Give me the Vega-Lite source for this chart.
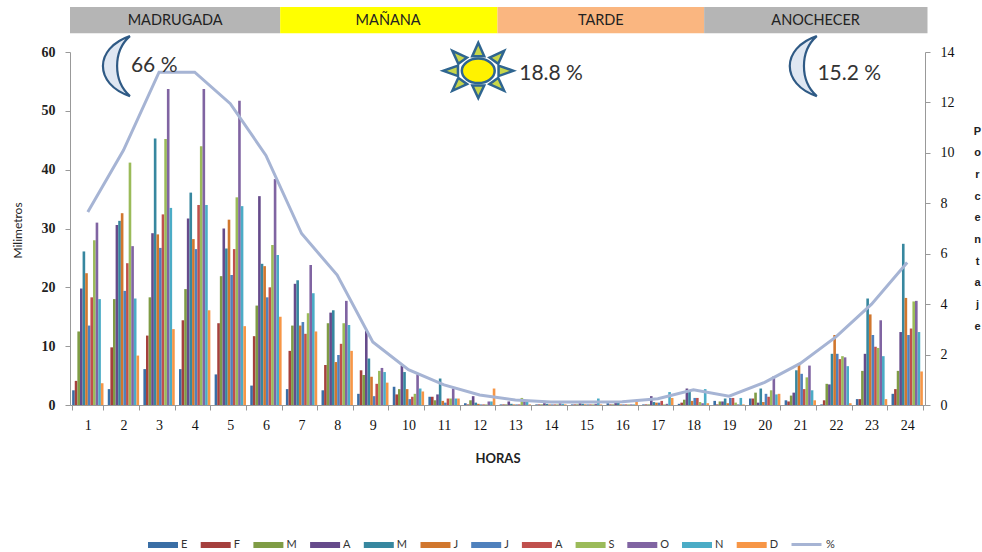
{"$schema":"https://vega.github.io/schema/vega-lite/v6.json","width":855,"height":353,"autosize":{"type":"none"},"padding":{"left":70,"top":52,"right":57,"bottom":147},"background":"white",
"config":{"view":{"stroke":null},"axis":{"grid":false}},
"datasets":{"barras":[
{"h":1,"mes":"Ene","mm":2.5},{"h":1,"mes":"Feb","mm":4.1},{"h":1,"mes":"Mar","mm":12.5},{"h":1,"mes":"Abr","mm":19.8},{"h":1,"mes":"May","mm":26.1},{"h":1,"mes":"Jun","mm":22.4},{"h":1,"mes":"Jul","mm":13.5},{"h":1,"mes":"Ago","mm":18.3},{"h":1,"mes":"Sep","mm":28},{"h":1,"mes":"Oct","mm":31},{"h":1,"mes":"Nov","mm":18},{"h":1,"mes":"Dic","mm":3.7},
{"h":2,"mes":"Ene","mm":2.7},{"h":2,"mes":"Feb","mm":9.8},{"h":2,"mes":"Mar","mm":18},{"h":2,"mes":"Abr","mm":30.6},{"h":2,"mes":"May","mm":31.3},{"h":2,"mes":"Jun","mm":32.6},{"h":2,"mes":"Jul","mm":19.4},{"h":2,"mes":"Ago","mm":24.1},{"h":2,"mes":"Sep","mm":41.2},{"h":2,"mes":"Oct","mm":27},{"h":2,"mes":"Nov","mm":18.1},{"h":2,"mes":"Dic","mm":8.4},
{"h":3,"mes":"Ene","mm":6.1},{"h":3,"mes":"Feb","mm":11.8},{"h":3,"mes":"Mar","mm":18.3},{"h":3,"mes":"Abr","mm":29.2},{"h":3,"mes":"May","mm":45.3},{"h":3,"mes":"Jun","mm":29},{"h":3,"mes":"Jul","mm":26.7},{"h":3,"mes":"Ago","mm":32.4},{"h":3,"mes":"Sep","mm":45.2},{"h":3,"mes":"Oct","mm":53.7},{"h":3,"mes":"Nov","mm":33.5},{"h":3,"mes":"Dic","mm":12.9},
{"h":4,"mes":"Ene","mm":6.1},{"h":4,"mes":"Feb","mm":14.4},{"h":4,"mes":"Mar","mm":19.7},{"h":4,"mes":"Abr","mm":31.7},{"h":4,"mes":"May","mm":36.1},{"h":4,"mes":"Jun","mm":28.2},{"h":4,"mes":"Jul","mm":26.5},{"h":4,"mes":"Ago","mm":34},{"h":4,"mes":"Sep","mm":44},{"h":4,"mes":"Oct","mm":53.7},{"h":4,"mes":"Nov","mm":34},{"h":4,"mes":"Dic","mm":16.1},
{"h":5,"mes":"Ene","mm":5.2},{"h":5,"mes":"Feb","mm":13.9},{"h":5,"mes":"Mar","mm":21.9},{"h":5,"mes":"Abr","mm":30},{"h":5,"mes":"May","mm":26.6},{"h":5,"mes":"Jun","mm":31.5},{"h":5,"mes":"Jul","mm":22.1},{"h":5,"mes":"Ago","mm":26.5},{"h":5,"mes":"Sep","mm":35.3},{"h":5,"mes":"Oct","mm":51.7},{"h":5,"mes":"Nov","mm":33.8},{"h":5,"mes":"Dic","mm":13.4},
{"h":6,"mes":"Ene","mm":3.3},{"h":6,"mes":"Feb","mm":11.7},{"h":6,"mes":"Mar","mm":16.9},{"h":6,"mes":"Abr","mm":35.5},{"h":6,"mes":"May","mm":24},{"h":6,"mes":"Jun","mm":23.6},{"h":6,"mes":"Jul","mm":18.3},{"h":6,"mes":"Ago","mm":20},{"h":6,"mes":"Sep","mm":27.2},{"h":6,"mes":"Oct","mm":38.4},{"h":6,"mes":"Nov","mm":25.5},{"h":6,"mes":"Dic","mm":15},
{"h":7,"mes":"Ene","mm":2.7},{"h":7,"mes":"Feb","mm":9.2},{"h":7,"mes":"Mar","mm":13.5},{"h":7,"mes":"Abr","mm":20.6},{"h":7,"mes":"May","mm":21.2},{"h":7,"mes":"Jun","mm":13.5},{"h":7,"mes":"Jul","mm":14.1},{"h":7,"mes":"Ago","mm":12.1},{"h":7,"mes":"Sep","mm":15.6},{"h":7,"mes":"Oct","mm":23.8},{"h":7,"mes":"Nov","mm":19},{"h":7,"mes":"Dic","mm":12.5},
{"h":8,"mes":"Ene","mm":2.5},{"h":8,"mes":"Feb","mm":6.8},{"h":8,"mes":"Mar","mm":13.9},{"h":8,"mes":"Abr","mm":15.7},{"h":8,"mes":"May","mm":16.1},{"h":8,"mes":"Jun","mm":7.3},{"h":8,"mes":"Jul","mm":8.5},{"h":8,"mes":"Ago","mm":10.4},{"h":8,"mes":"Sep","mm":13.9},{"h":8,"mes":"Oct","mm":17.7},{"h":8,"mes":"Nov","mm":13.6},{"h":8,"mes":"Dic","mm":9.2},
{"h":9,"mes":"Ene","mm":1.9},{"h":9,"mes":"Feb","mm":5.9},{"h":9,"mes":"Mar","mm":5.1},{"h":9,"mes":"Abr","mm":12.6},{"h":9,"mes":"May","mm":7.9},{"h":9,"mes":"Jun","mm":4.8},{"h":9,"mes":"Jul","mm":1.5},{"h":9,"mes":"Ago","mm":3.6},{"h":9,"mes":"Sep","mm":5.8},{"h":9,"mes":"Oct","mm":6.3},{"h":9,"mes":"Nov","mm":5.6},{"h":9,"mes":"Dic","mm":3.8},
{"h":10,"mes":"Ene","mm":3.1},{"h":10,"mes":"Feb","mm":1.8},{"h":10,"mes":"Mar","mm":2.7},{"h":10,"mes":"Abr","mm":6.7},{"h":10,"mes":"May","mm":5.6},{"h":10,"mes":"Jun","mm":2.7},{"h":10,"mes":"Jul","mm":1},{"h":10,"mes":"Ago","mm":1.4},{"h":10,"mes":"Sep","mm":1.9},{"h":10,"mes":"Oct","mm":5.2},{"h":10,"mes":"Nov","mm":2.8},{"h":10,"mes":"Dic","mm":2.3},
{"h":11,"mes":"Ene","mm":1.4},{"h":11,"mes":"Feb","mm":1.4},{"h":11,"mes":"Mar","mm":0.8},{"h":11,"mes":"Abr","mm":1.8},{"h":11,"mes":"May","mm":4.5},{"h":11,"mes":"Jun","mm":0.7},{"h":11,"mes":"Jul","mm":0.4},{"h":11,"mes":"Ago","mm":1.1},{"h":11,"mes":"Sep","mm":1.1},{"h":11,"mes":"Oct","mm":2.8},{"h":11,"mes":"Nov","mm":1.1},{"h":11,"mes":"Dic","mm":1.1},
{"h":12,"mes":"Ene","mm":0.3},{"h":12,"mes":"Feb","mm":0.1},{"h":12,"mes":"Mar","mm":0.8},{"h":12,"mes":"Abr","mm":1.5},{"h":12,"mes":"May","mm":0.4},{"h":12,"mes":"Jun","mm":0.2},{"h":12,"mes":"Jul","mm":0.1},{"h":12,"mes":"Ago","mm":0.1},{"h":12,"mes":"Sep","mm":0.1},{"h":12,"mes":"Oct","mm":0.6},{"h":12,"mes":"Nov","mm":0.6},{"h":12,"mes":"Dic","mm":2.8},
{"h":13,"mes":"Ene","mm":0.1},{"h":13,"mes":"Feb","mm":0.1},{"h":13,"mes":"Mar","mm":0.1},{"h":13,"mes":"Abr","mm":0.6},{"h":13,"mes":"May","mm":0.2},{"h":13,"mes":"Jun","mm":0.1},{"h":13,"mes":"Jul","mm":0.1},{"h":13,"mes":"Ago","mm":0.1},{"h":13,"mes":"Sep","mm":1.2},{"h":13,"mes":"Oct","mm":0.8},{"h":13,"mes":"Nov","mm":0.6},{"h":13,"mes":"Dic","mm":0.1},
{"h":14,"mes":"Ene","mm":0.1},{"h":14,"mes":"Feb","mm":0.1},{"h":14,"mes":"Mar","mm":0.1},{"h":14,"mes":"Abr","mm":0.3},{"h":14,"mes":"May","mm":0.2},{"h":14,"mes":"Jun","mm":0.1},{"h":14,"mes":"Jul","mm":0.1},{"h":14,"mes":"Ago","mm":0.1},{"h":14,"mes":"Sep","mm":0.1},{"h":14,"mes":"Oct","mm":0.3},{"h":14,"mes":"Nov","mm":0.2},{"h":14,"mes":"Dic","mm":0.1},
{"h":15,"mes":"Ene","mm":0.1},{"h":15,"mes":"Feb","mm":0.1},{"h":15,"mes":"Mar","mm":0.1},{"h":15,"mes":"Abr","mm":0.3},{"h":15,"mes":"May","mm":0.2},{"h":15,"mes":"Jun","mm":0.1},{"h":15,"mes":"Jul","mm":0.1},{"h":15,"mes":"Ago","mm":0.1},{"h":15,"mes":"Sep","mm":0.1},{"h":15,"mes":"Oct","mm":0.2},{"h":15,"mes":"Nov","mm":1.1},{"h":15,"mes":"Dic","mm":0.1},
{"h":16,"mes":"Ene","mm":0.3},{"h":16,"mes":"Feb","mm":0.1},{"h":16,"mes":"Mar","mm":0.1},{"h":16,"mes":"Abr","mm":0.5},{"h":16,"mes":"May","mm":0.5},{"h":16,"mes":"Jun","mm":0.1},{"h":16,"mes":"Jul","mm":0.1},{"h":16,"mes":"Ago","mm":0.1},{"h":16,"mes":"Sep","mm":0.1},{"h":16,"mes":"Oct","mm":0.1},{"h":16,"mes":"Nov","mm":0.1},{"h":16,"mes":"Dic","mm":0.7},
{"h":17,"mes":"Ene","mm":0.1},{"h":17,"mes":"Feb","mm":0.1},{"h":17,"mes":"Mar","mm":0.1},{"h":17,"mes":"Abr","mm":1.5},{"h":17,"mes":"May","mm":0.5},{"h":17,"mes":"Jun","mm":0.4},{"h":17,"mes":"Jul","mm":0.4},{"h":17,"mes":"Ago","mm":0.7},{"h":17,"mes":"Sep","mm":0.1},{"h":17,"mes":"Oct","mm":0.2},{"h":17,"mes":"Nov","mm":2.2},{"h":17,"mes":"Dic","mm":1.2},
{"h":18,"mes":"Ene","mm":0.2},{"h":18,"mes":"Feb","mm":0.4},{"h":18,"mes":"Mar","mm":0.9},{"h":18,"mes":"Abr","mm":2.8},{"h":18,"mes":"May","mm":2.2},{"h":18,"mes":"Jun","mm":0.7},{"h":18,"mes":"Jul","mm":1.2},{"h":18,"mes":"Ago","mm":1.2},{"h":18,"mes":"Sep","mm":0.5},{"h":18,"mes":"Oct","mm":0.3},{"h":18,"mes":"Nov","mm":2.7},{"h":18,"mes":"Dic","mm":0.3},
{"h":19,"mes":"Ene","mm":0.7},{"h":19,"mes":"Feb","mm":0.1},{"h":19,"mes":"Mar","mm":0.6},{"h":19,"mes":"Abr","mm":0.6},{"h":19,"mes":"May","mm":1.1},{"h":19,"mes":"Jun","mm":0.3},{"h":19,"mes":"Jul","mm":1.2},{"h":19,"mes":"Ago","mm":1.2},{"h":19,"mes":"Sep","mm":0.4},{"h":19,"mes":"Oct","mm":0.1},{"h":19,"mes":"Nov","mm":1.2},{"h":19,"mes":"Dic","mm":0.1},
{"h":20,"mes":"Ene","mm":1.1},{"h":20,"mes":"Feb","mm":1.1},{"h":20,"mes":"Mar","mm":2.1},{"h":20,"mes":"Abr","mm":0.4},{"h":20,"mes":"May","mm":2.8},{"h":20,"mes":"Jun","mm":0.5},{"h":20,"mes":"Jul","mm":1.9},{"h":20,"mes":"Ago","mm":1.4},{"h":20,"mes":"Sep","mm":2.5},{"h":20,"mes":"Oct","mm":4.9},{"h":20,"mes":"Nov","mm":1.8},{"h":20,"mes":"Dic","mm":1.9},
{"h":21,"mes":"Ene","mm":0.8},{"h":21,"mes":"Feb","mm":0.6},{"h":21,"mes":"Mar","mm":1.6},{"h":21,"mes":"Abr","mm":2.1},{"h":21,"mes":"May","mm":5.9},{"h":21,"mes":"Jun","mm":7.1},{"h":21,"mes":"Jul","mm":5.3},{"h":21,"mes":"Ago","mm":2.7},{"h":21,"mes":"Sep","mm":4.7},{"h":21,"mes":"Oct","mm":6.7},{"h":21,"mes":"Nov","mm":2.5},{"h":21,"mes":"Dic","mm":0.8},
{"h":22,"mes":"Ene","mm":0.1},{"h":22,"mes":"Feb","mm":0.8},{"h":22,"mes":"Mar","mm":3.6},{"h":22,"mes":"Abr","mm":3.5},{"h":22,"mes":"May","mm":8.7},{"h":22,"mes":"Jun","mm":11.9},{"h":22,"mes":"Jul","mm":8.7},{"h":22,"mes":"Ago","mm":7.8},{"h":22,"mes":"Sep","mm":8.3},{"h":22,"mes":"Oct","mm":8.1},{"h":22,"mes":"Nov","mm":6.6},{"h":22,"mes":"Dic","mm":0.3},
{"h":23,"mes":"Ene","mm":1},{"h":23,"mes":"Feb","mm":1},{"h":23,"mes":"Mar","mm":5.8},{"h":23,"mes":"Abr","mm":8.7},{"h":23,"mes":"May","mm":18.1},{"h":23,"mes":"Jun","mm":15.4},{"h":23,"mes":"Jul","mm":11.9},{"h":23,"mes":"Ago","mm":9.9},{"h":23,"mes":"Sep","mm":9.7},{"h":23,"mes":"Oct","mm":14.4},{"h":23,"mes":"Nov","mm":8.3},{"h":23,"mes":"Dic","mm":1},
{"h":24,"mes":"Ene","mm":1.9},{"h":24,"mes":"Feb","mm":2.7},{"h":24,"mes":"Mar","mm":5.8},{"h":24,"mes":"Abr","mm":12.4},{"h":24,"mes":"May","mm":27.4},{"h":24,"mes":"Jun","mm":18.2},{"h":24,"mes":"Jul","mm":11.9},{"h":24,"mes":"Ago","mm":13},{"h":24,"mes":"Sep","mm":17.6},{"h":24,"mes":"Oct","mm":17.7},{"h":24,"mes":"Nov","mm":12.4},{"h":24,"mes":"Dic","mm":5.7}
],
"linea":[{"h":1,"p":7.65,"s":"%"},{"h":2,"p":10.1,"s":"%"},{"h":3,"p":13.2,"s":"%"},{"h":4,"p":13.2,"s":"%"},{"h":5,"p":11.95,"s":"%"},{"h":6,"p":9.9,"s":"%"},{"h":7,"p":6.8,"s":"%"},{"h":8,"p":5.15,"s":"%"},{"h":9,"p":2.5,"s":"%"},{"h":10,"p":1.4,"s":"%"},{"h":11,"p":0.8,"s":"%"},{"h":12,"p":0.4,"s":"%"},{"h":13,"p":0.2,"s":"%"},{"h":14,"p":0.12,"s":"%"},{"h":15,"p":0.12,"s":"%"},{"h":16,"p":0.13,"s":"%"},{"h":17,"p":0.25,"s":"%"},{"h":18,"p":0.6,"s":"%"},{"h":19,"p":0.35,"s":"%"},{"h":20,"p":0.9,"s":"%"},{"h":21,"p":1.65,"s":"%"},{"h":22,"p":2.7,"s":"%"},{"h":23,"p":4,"s":"%"},{"h":24,"p":5.65,"s":"%"}],
"franjas":[{"n":"MADRUGADA","a":0,"b":5.9,"m":2.95,"t":67.65,"u":63.2,"c":"g"},{"n":"MAÑANA","a":5.9,"b":12,"m":8.93,"t":67.65,"u":63.2,"c":"y"},{"n":"TARDE","a":12,"b":17.8,"m":14.9,"t":67.65,"u":63.2,"c":"o"},{"n":"ANOCHECER","a":17.8,"b":24.07,"m":20.93,"t":67.65,"u":63.2,"c":"g"}],
"textos":[{"x":1.71,"y":57.6,"t":"66 %"},{"x":12.61,"y":56.2,"t":"18.8 %"},{"x":20.98,"y":56.2,"t":"15.2 %"}],
"lunas":[{"x":1.32,"y":57.6},{"x":20.6,"y":57.6}],
"sol":[{"x":11.46,"y":56.8}]},
"layer":[
{"data":{"name":"barras"},"mark":{"type":"bar"},
"encoding":{
"x":{"field":"h","type":"ordinal","sort":null,"scale":{"type":"band","domain":[1,2,3,4,5,6,7,8,9,10,11,12,13,14,15,16,17,18,19,20,21,22,23,24],"paddingInner":0.12,"paddingOuter":0.06},
"axis":{"title":"HORAS","titleFont":"Lato","titleFontSize":13,"titleFontWeight":"bold","titleColor":"#222","titleY":47,"labelAngle":0,"labelFont":"Liberation Serif","labelFontSize":14,"labelFontWeight":"normal","labelColor":"#111","labelPadding":8,"tickBand":"extent","tickSize":5,"tickColor":"#999","domainColor":"#999"}},
"xOffset":{"field":"mes","type":"nominal","sort":null,"scale":{"domain":["Ene","Feb","Mar","Abr","May","Jun","Jul","Ago","Sep","Oct","Nov","Dic"]}},
"y":{"field":"mm","type":"quantitative","scale":{"domain":[0,60],"nice":false},"axis":{"orient":"left","title":"Milimetros","titleFont":"Lato","titleFontSize":12,"titleFontWeight":"normal","titleColor":"#222","titleX":-46,"titleY":178,"values":[0,10,20,30,40,50,60],"labelFont":"Liberation Serif","labelFontSize":14,"labelFontWeight":"bold","labelColor":"#222","labelPadding":10,"tickSize":5,"tickColor":"#999","domainColor":"#999"}},
"color":{"field":"mes","type":"nominal","sort":null,"scale":{"domain":["Ene","Feb","Mar","Abr","May","Jun","Jul","Ago","Sep","Oct","Nov","Dic"],"range":["#3a6ea5","#a5403d","#7f9c45","#664b8b","#37879f","#d1772e","#4f81bd","#c0504d","#9bbb59","#8064a2","#4bacc6","#f79646"]},
"legend":{"title":null,"orient":"none","legendX":78,"legendY":478,"direction":"horizontal","columns":12,"gridAlign":"each","columnPadding":12.7,"symbolType":"M-1,-0.2H1V0.2H-1Z","symbolSize":900,"symbolStrokeWidth":0,"labelOffset":3,"labelFont":"Lato","labelFontSize":11,"labelColor":"#333","labelExpr":"slice(datum.label,0,1)"}}}},
{"data":{"name":"linea"},"mark":{"type":"line","strokeWidth":3,"interpolate":"linear"},
"encoding":{
"x":{"field":"h","type":"ordinal","sort":null,"scale":{"type":"band","domain":[1,2,3,4,5,6,7,8,9,10,11,12,13,14,15,16,17,18,19,20,21,22,23,24],"paddingInner":0.12,"paddingOuter":0.06},"axis":null},
"y":{"field":"p","type":"quantitative","scale":{"domain":[0,14],"nice":false},"axis":{"orient":"right","title":["P","o","r","c","e","n","t","a","j","e"],"titleAngle":0,"titleAlign":"center","titleBaseline":"middle","titleX":52,"titleY":79,"titleLineHeight":21.7,"titleFont":"Liberation Sans","titleFontSize":11,"titleFontWeight":"bold","titleColor":"#222","values":[0,2,4,6,8,10,12,14],"labelFont":"Liberation Serif","labelFontSize":14,"labelFontWeight":"normal","labelColor":"#111","labelPadding":10,"tickSize":5,"tickColor":"#999","domainColor":"#999"}},
"color":{"field":"s","type":"nominal","scale":{"domain":["%"],"range":["#a6b4d4"]},"legend":{"title":null,"orient":"none","legendX":720,"legendY":476,"symbolType":"stroke","symbolSize":900,"symbolStrokeWidth":3,"labelOffset":3,"labelFont":"Lato","labelFontSize":11,"labelColor":"#333"}}}},
{"layer":[
{"data":{"name":"franjas"},"mark":{"type":"rect","clip":false},
"encoding":{"x":{"field":"a","type":"quantitative","scale":{"domain":[0,24],"nice":false,"zero":false},"axis":null},"x2":{"field":"b"},"y":{"field":"t","type":"quantitative","scale":{"domain":[0,60],"nice":false},"axis":null},"y2":{"field":"u"},
"fill":{"field":"c","type":"nominal","scale":{"domain":["g","y","o"],"range":["#b5b5b5","#ffff00","#fab680"]},"legend":null}}},
{"data":{"name":"franjas"},"mark":{"type":"text","font":"Lato","fontSize":14.5,"color":"#222","align":"center","baseline":"middle"},
"encoding":{"x":{"field":"m","type":"quantitative"},"y":{"datum":65.2,"type":"quantitative"},"text":{"field":"n"}}},
{"data":{"name":"lunas"},"mark":{"type":"point","filled":true,"fill":"#dfe7f2","stroke":"#2f5a85","strokeWidth":2.2,"opacity":1,"shape":"M0.43,-1C-0.77,-0.6 -0.77,0.6 0.43,1C-0.14,0.5 -0.14,-0.5 0.43,-1Z","size":3600},
"encoding":{"x":{"field":"x","type":"quantitative"},"y":{"field":"y","type":"quantitative"}}},
{"data":{"name":"sol"},"mark":{"type":"point","filled":true,"fill":"#c8d64a","stroke":"#2f6590","strokeWidth":2.5,"opacity":1,"size":4900,"shape":"M0.58,-0.15L1,0L0.58,0.15ZM-0.58,-0.15L-1,0L-0.58,0.15ZM-0.17,-0.42L0,-0.8L0.17,-0.42ZM-0.17,0.42L0,0.78L0.17,0.42ZM0.32,-0.38L0.74,-0.57L0.57,-0.2ZM-0.32,-0.38L-0.74,-0.57L-0.57,-0.2ZM0.32,0.38L0.74,0.57L0.57,0.2ZM-0.32,0.38L-0.74,0.57L-0.57,0.2Z"},
"encoding":{"x":{"field":"x","type":"quantitative"},"y":{"field":"y","type":"quantitative"}}},
{"data":{"name":"sol"},"mark":{"type":"point","filled":true,"fill":"#fff200","stroke":"#2f6590","strokeWidth":2.5,"opacity":1,"size":4900,"shape":"M-0.47,0A0.47,0.35 0 1 1 0.47,0A0.47,0.35 0 1 1 -0.47,0Z"},
"encoding":{"x":{"field":"x","type":"quantitative"},"y":{"field":"y","type":"quantitative"}}},
{"data":{"name":"textos"},"mark":{"type":"text","font":"Lato","fontSize":21,"color":"#333","align":"left","baseline":"middle"},
"encoding":{"x":{"field":"x","type":"quantitative"},"y":{"field":"y","type":"quantitative"},"text":{"field":"t"}}}
]}
],
"resolve":{"scale":{"x":"independent","y":"independent","color":"independent"},"axis":{"x":"independent","y":"independent"},"legend":{"color":"independent"}}}
